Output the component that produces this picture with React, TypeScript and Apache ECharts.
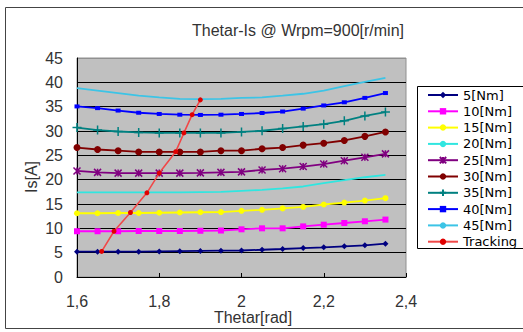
import React, { useEffect, useRef } from "react";
import * as echarts from "echarts";

// Thetar [rad] sample points shared by all torque curves
const thetas = [1.6, 1.65, 1.7, 1.75, 1.8, 1.85, 1.9, 1.95, 2.0, 2.05, 2.1, 2.15, 2.2, 2.25, 2.3, 2.35];

const is5 = [5.2, 5.2, 5.2, 5.2, 5.25, 5.3, 5.35, 5.4, 5.45, 5.6, 5.75, 5.95, 6.1, 6.3, 6.5, 6.85];
const is10 = [9.4, 9.4, 9.4, 9.45, 9.45, 9.45, 9.5, 9.55, 9.8, 10.0, 10.0, 10.4, 10.75, 11.1, 11.45, 11.8];
const is15 = [13.1, 13.1, 13.15, 13.15, 13.2, 13.25, 13.3, 13.35, 13.6, 13.8, 14.1, 14.4, 14.9, 15.3, 15.7, 16.2];
const is20 = [17.4, 17.4, 17.4, 17.4, 17.4, 17.4, 17.45, 17.5, 17.7, 17.9, 18.2, 18.6, 19.3, 19.9, 20.5, 21.0];
const is25 = [21.8, 21.5, 21.35, 21.35, 21.35, 21.35, 21.4, 21.5, 21.6, 22.0, 22.25, 22.7, 23.2, 23.9, 24.6, 25.3];
const is30 = [26.6, 26.2, 25.95, 25.7, 25.7, 25.7, 25.7, 25.95, 25.95, 26.35, 26.6, 27.1, 27.5, 28.05, 28.9, 29.8];
const is35 = [30.7, 30.2, 29.9, 29.7, 29.6, 29.6, 29.6, 29.6, 29.8, 30.05, 30.5, 30.95, 31.4, 32.1, 33.1, 33.9];
const is40 = [35.05, 34.7, 34.2, 33.75, 33.5, 33.35, 33.3, 33.35, 33.5, 33.7, 34.0, 34.6, 35.25, 35.9, 36.8, 37.8];
const is45 = [38.8, 38.3, 37.8, 37.25, 36.9, 36.6, 36.55, 36.6, 36.8, 36.9, 37.25, 37.65, 38.3, 39.2, 40.1, 40.9];

const trackingTheta = [1.66, 1.69, 1.73, 1.77, 1.8, 1.84, 1.86, 1.88, 1.9];
const trackingIs = [5.25, 9.4, 13.25, 17.3, 21.35, 25.75, 29.6, 33.35, 36.4];

const seriesNames = ["5[Nm]", "10[Nm]", "15[Nm]", "20[Nm]", "25[Nm]", "30[Nm]", "35[Nm]", "40[Nm]", "45[Nm]"];
const seriesValues = [is5, is10, is15, is20, is25, is30, is35, is40, is45];
const trackingName = "Tracking";

const titleText = "Thetar-Is @ Wrpm=900[r/min]";
const xAxisName = "Thetar[rad]";
const yAxisName = "Is[A]";

const starPath = "path://M0,0L10,10M10,0L0,10M5,0L5,10";
const plusPath = "path://M5,0L5,10M0,5L10,5";

const seriesStyles: any[] = [
  { color: "#000080", symbol: "diamond", size: 6 },
  { color: "#ff00ff", symbol: "rect", size: 6 },
  { color: "#ffff00", symbol: "circle", size: 6 },
  { color: "#30e6e0", symbol: "none", size: 0 },
  { color: "#800080", symbol: starPath, size: 7, stroke: true },
  { color: "#800000", symbol: "circle", size: 7 },
  { color: "#008080", symbol: plusPath, size: 9, stroke: true },
  { color: "#0000ff", symbol: "rect", size: [5, 4] },
  { color: "#3cc4e6", symbol: "none", size: 0 },
];

export default function App() {
  const ref = useRef<HTMLDivElement>(null);
  useEffect(() => {
    if (!ref.current) return;
    const chart = echarts.init(ref.current, undefined, { renderer: "svg" });
    const series: any[] = seriesNames.map((name, k) => {
      const st = seriesStyles[k];
      return {
        name,
        type: "line",
        data: thetas.map((t, i) => [t, seriesValues[k][i]]),
        symbol: st.symbol,
        symbolSize: st.size,
        showSymbol: st.symbol !== "none",
        lineStyle: { color: st.color, width: 1.8 },
        itemStyle: st.stroke
          ? { color: st.color, borderColor: st.color, borderWidth: 1.5 }
          : { color: st.color, borderWidth: 0 },
        z: 2,
      };
    });
    series.push({
      name: trackingName,
      type: "line",
      data: trackingTheta.map((t, i) => [t, trackingIs[i]]),
      symbol: "circle",
      symbolSize: 5,
      lineStyle: { color: "#f04848", width: 1.6 },
      itemStyle: { color: "#e00000", borderWidth: 0 },
      z: 3,
    });

    const splitColors = ["#000", "#000", "#000", "#000", "#000", "#000", "#000", "#000", "#000", "#909090"];

    chart.setOption({
      animation: false,
      grid: {
        left: 77,
        top: 58,
        right: 117,
        bottom: 55,
        show: true,
        backgroundColor: "#c0c0c0",
        borderColor: "#909090",
        borderWidth: 1,
      },
      xAxis: {
        type: "value",
        min: 1.6,
        max: 2.4,
        interval: 0.2,
        axisLine: { show: true, lineStyle: { color: "#000", width: 1 } },
        axisTick: { show: true, inside: true, length: 4, lineStyle: { color: "#000" } },
        splitLine: { show: false },
        axisLabel: {
          margin: 18,
          color: "#333",
          fontFamily: "Liberation Sans",
          fontSize: 16,
          lineHeight: 13,
          formatter: (v: number) => String(Math.round(v * 10) / 10).replace(".", ","),
        },
      },
      yAxis: {
        type: "value",
        min: 0,
        max: 45,
        interval: 5,
        axisLine: { show: true, lineStyle: { color: "#000", width: 1 } },
        axisTick: { show: false },
        splitLine: { show: true, lineStyle: { color: splitColors, width: 1 } },
        axisLabel: {
          margin: 14,
          color: "#333",
          fontFamily: "Liberation Sans",
          fontSize: 16,
        },
      },
      legend: {
        orient: "vertical",
        left: 427,
        top: 88,
        itemWidth: 30,
        itemHeight: 8,
        itemGap: 2.3,
        padding: 0,
        textStyle: { fontFamily: "DejaVu Sans", fontSize: 13, lineHeight: 14, color: "#000" },
        data: [...seriesNames, trackingName],
        z: 5,
      },
      graphic: [
        {
          type: "rect",
          shape: { x: 5.5, y: 7.5, width: 540, height: 321 },
          style: { fill: "none", stroke: "#444", lineWidth: 1 },
          silent: true,
          z: 0,
        },
        {
          type: "rect",
          shape: { x: 417.5, y: 86.5, width: 120, height: 162 },
          style: { fill: "#fff", stroke: "#000", lineWidth: 1 },
          silent: true,
          z: 1,
        },
        {
          type: "text",
          x: 298,
          y: 30,
          style: {
            text: titleText,
            fill: "#333",
            font: "16px 'Liberation Sans'",
            align: "center",
            verticalAlign: "middle",
          },
        },
        {
          type: "text",
          x: 253,
          y: 317,
          style: {
            text: xAxisName,
            fill: "#333",
            font: "16px 'Liberation Sans'",
            lineHeight: 13,
            align: "center",
            verticalAlign: "middle",
          },
        },
        {
          type: "text",
          x: 31,
          y: 177,
          rotation: Math.PI / 2,
          style: {
            text: yAxisName,
            fill: "#333",
            font: "16px 'Liberation Sans'",
            align: "center",
            verticalAlign: "middle",
          },
        },
      ],
      series,
    });
    return () => chart.dispose();
  }, []);
  return <div ref={ref} style={{ position: "absolute", left: 0, top: 0, width: 523, height: 332, background: "#fff" }} />;
}
